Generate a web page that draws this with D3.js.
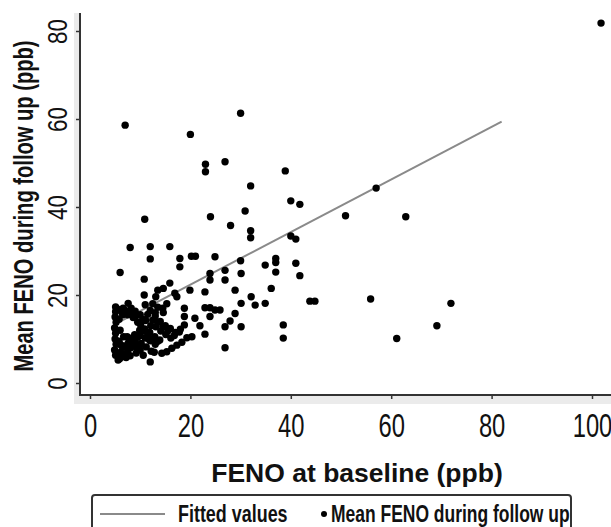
<!DOCTYPE html>
<html>
<head>
<meta charset="utf-8">
<script src="https://cdn.jsdelivr.net/npm/d3@7"></script>
<style>
  body { margin: 0; background: #fff; }
  text { font-family: "Liberation Sans", Arial, sans-serif; fill: #111; }
</style>
</head>
<body>
<svg width="611" height="527"></svg>
<script>
// FENO at baseline (ppb) / mean FENO during follow up (ppb)
const baseline = [
  7.0, 20.0, 30.0, 23.0, 23.0, 26.9, 38.9, 32.0, 40.0, 41.8,
  30.9, 24.0, 28.0, 32.0, 32.0, 10.9, 50.9, 40.0, 41.0, 57.0,
  62.9, 55.9, 71.9, 69.1, 61.1, 101.8, 8.0, 12.0, 15.9, 12.0,
  17.9, 17.9, 20.2, 21.0, 24.9, 30.0, 6.0, 10.8, 10.8, 15.9,
  23.9, 23.9, 26.9, 26.9, 30.1, 34.9, 37.0, 37.0, 37.0, 41.0,
  41.8, 19.9, 22.9, 28.9, 36.1, 32.1, 13.5, 14.6, 13.1, 16.9,
  17.3, 32.9, 34.9, 30.1, 43.8, 44.8, 22.9, 23.9, 24.9, 25.9,
  23.9, 28.9, 27.9, 26.9, 30.1, 38.5, 38.5, 26.9, 22.9, 21.9,
  20.9, 18.8, 18.8, 18.8, 19.3, 20.3, 12.0, 5.6, 7.6, 8.2,
  5.1, 5.1, 12.5, 13.5, 14.5, 15.3, 13.0, 14.6, 14.3, 15.3,
  16.3, 17.3, 18.3,
  // dense cluster at low baseline
  5.0, 5.2, 4.9, 5.1, 5.0, 5.2, 4.9, 5.1,
  5.8, 6.0, 5.8, 6.1, 5.9,
  6.6, 6.5, 6.7, 6.5, 6.6,
  7.5, 7.4, 7.6, 7.5,
  8.2, 8.3, 8.1,
  9.0, 9.1, 8.9, 9.0, 9.2,
  10.0, 10.1, 9.9, 10.0, 10.2, 10.0,
  11.0, 11.1, 10.9, 11.0, 11.2,
  12.0, 12.1, 11.9, 12.0, 12.2,
  13.0, 13.1, 12.9, 13.0,
  14.0, 14.1, 13.9,
  15.0, 15.1,
  16.0, 16.1,
  17.0, 18.0,
  5.5, 6.2, 7.0, 7.8, 8.6, 9.5, 10.5, 11.5, 12.5, 13.5, 14.5, 15.5,
  5.5, 6.2, 7.0, 7.8, 8.6, 9.5, 10.5, 11.5, 12.5, 13.5,
  6.8, 8.0, 9.3, 10.6, 11.8, 7.2, 9.8, 12.8, 16.8, 17.8
];
const followUp = [
  58.6, 56.5, 61.3, 49.7, 48.0, 50.3, 48.2, 44.8, 41.4, 40.6,
  39.1, 37.8, 35.8, 34.6, 33.0, 37.2, 38.0, 33.4, 32.7, 44.3,
  37.8, 19.1, 18.1, 13.0, 10.1, 81.8, 30.8, 31.0, 31.0, 28.2,
  28.3, 26.4, 28.8, 28.8, 28.7, 27.8, 25.1, 23.6, 20.0, 22.7,
  24.9, 23.4, 25.6, 23.4, 24.9, 26.8, 28.3, 27.4, 25.2, 27.2,
  24.4, 21.1, 20.7, 21.1, 21.5, 19.6, 21.1, 21.5, 19.6, 20.4,
  19.6, 17.7, 18.1, 18.1, 18.6, 18.6, 17.1, 17.1, 16.6, 16.6,
  15.1, 15.8, 14.1, 12.8, 12.8, 13.2, 10.2, 8.0, 11.1, 13.0,
  14.7, 17.0, 15.1, 13.2, 10.3, 10.5, 4.8, 5.2, 18.1, 17.0,
  17.3, 16.2, 18.0, 17.2, 17.0, 18.0, 16.0, 16.0, 6.75, 7.1,
  7.9, 8.6, 9.25,
  15.0, 13.8, 12.5, 11.3, 10.0, 8.8, 7.5, 6.3,
  14.5, 12.0, 9.5, 7.0, 5.5,
  17.0, 15.5, 10.5, 8.2, 6.0,
  15.5, 10.5, 9.0, 7.2,
  15.7, 10.2, 8.0,
  16.3, 15.2, 11.0, 9.3, 6.8,
  15.5, 13.2, 12.0, 10.8, 9.0, 7.5,
  17.8, 14.2, 12.3, 10.2, 8.2,
  16.5, 13.0, 11.5, 9.6, 7.2,
  15.2, 12.8, 10.5, 8.8,
  14.0, 11.8, 9.8,
  13.0, 11.0,
  12.4, 10.2,
  11.5, 12.2,
  16.8, 16.4, 16.5, 16.0, 14.9, 13.8, 14.5, 15.6, 14.3, 13.8, 12.8, 11.8,
  9.0, 8.6, 8.4, 9.6, 9.2, 10.4, 11.8, 11.0, 10.0, 9.5,
  6.6, 6.2, 7.9, 6.3, 9.9, 5.8, 8.4, 7.0, 10.8, 11.6
];
// fitted values line (two ends)
const fitX = [5, 82];
const fitY = [13.4, 59.4];

const xTicks = [0, 20, 40, 60, 80, 100];
const yTicks = [0, 20, 40, 60, 80];

const svg = d3.select("svg");

const xScale = d3.scaleLinear().domain([0, 100]).range([90, 592]);
const yScale = d3.scaleLinear().domain([0, 80]).range([383, 31]);

// light grey band round the plot region
svg.append("rect").attr("x", 74).attr("y", 13).attr("width", 6).attr("height", 391).attr("fill", "#ebebeb");
svg.append("rect").attr("x", 74).attr("y", 395).attr("width", 537).attr("height", 9).attr("fill", "#ebebeb");

// y axis
const yAxisG = svg.append("g")
  .attr("transform", "translate(80,0)")
  .call(d3.axisLeft(yScale).tickValues(yTicks).tickSize(4).tickFormat(d3.format("d")));
yAxisG.select(".domain").remove();
yAxisG.selectAll(".tick line").attr("stroke", "#333").attr("stroke-width", 1.5);
yAxisG.selectAll(".tick text")
  .attr("x", 0)
  .attr("dy", 0)
  .attr("font-size", 28)
  .attr("text-anchor", "middle")
  .attr("transform", "translate(-13,0) rotate(-90) scale(0.8,1)");

// x axis
const xAxisG = svg.append("g")
  .attr("transform", "translate(0,395)")
  .call(d3.axisBottom(xScale).tickValues(xTicks).tickSize(4).tickFormat(d3.format("d")));
xAxisG.select(".domain").remove();
xAxisG.selectAll(".tick line").attr("stroke", "#333").attr("stroke-width", 1.5);
xAxisG.selectAll(".tick text")
  .attr("y", 0)
  .attr("dy", 0)
  .attr("font-size", 33)
  .attr("text-anchor", "middle")
  .attr("transform", "translate(0,42) scale(0.72,1)");

// axis lines
svg.append("line").attr("x1", 80).attr("x2", 80).attr("y1", 13).attr("y2", 396)
  .attr("stroke", "#333").attr("stroke-width", 2);
svg.append("line").attr("x1", 79).attr("x2", 611).attr("y1", 395).attr("y2", 395)
  .attr("stroke", "#333").attr("stroke-width", 2);

// fitted line
const fit = fitX.map((d, i) => [d, fitY[i]]);
svg.append("path")
  .datum(fit)
  .attr("d", d3.line().x(d => xScale(d[0])).y(d => yScale(d[1])))
  .attr("fill", "none")
  .attr("stroke", "#8a8a8a")
  .attr("stroke-width", 2);

// points
const points = baseline.map((d, i) => ({ x: d, y: followUp[i] }));
svg.append("g")
  .selectAll("circle")
  .data(points)
  .enter()
  .append("circle")
  .attr("cx", d => xScale(d.x))
  .attr("cy", d => yScale(d.y))
  .attr("r", 3.7)
  .attr("fill", "#000");

// axis titles
svg.append("text")
  .attr("x", 357)
  .attr("y", 482)
  .attr("text-anchor", "middle")
  .attr("font-size", 26.5)
  .attr("font-weight", "bold")
  .text("FENO at baseline (ppb)");

svg.append("text")
  .attr("transform", "translate(33,206) rotate(-90) scale(0.72,1)")
  .attr("text-anchor", "middle")
  .attr("font-size", 28)
  .attr("font-weight", "bold")
  .text("Mean FENO during follow up (ppb)");

// legend
const legendG = svg.append("g");
legendG.append("rect")
  .attr("x", 92).attr("y", 495).attr("width", 479).attr("height", 50).attr("rx", 3)
  .attr("fill", "none").attr("stroke", "#333").attr("stroke-width", 2);
legendG.append("line")
  .attr("x1", 100).attr("x2", 165).attr("y1", 514).attr("y2", 514)
  .attr("stroke", "#8a8a8a").attr("stroke-width", 2);
legendG.append("text")
  .attr("transform", "translate(178,522) scale(0.78,1)")
  .attr("font-size", 23).attr("font-weight", "bold")
  .text("Fitted values");
legendG.append("circle").attr("cx", 324).attr("cy", 514).attr("r", 3).attr("fill", "#000");
legendG.append("text")
  .attr("transform", "translate(331,522) scale(0.76,1)")
  .attr("font-size", 23).attr("font-weight", "bold")
  .text("Mean FENO during follow up");
</script>
</body>
</html>
